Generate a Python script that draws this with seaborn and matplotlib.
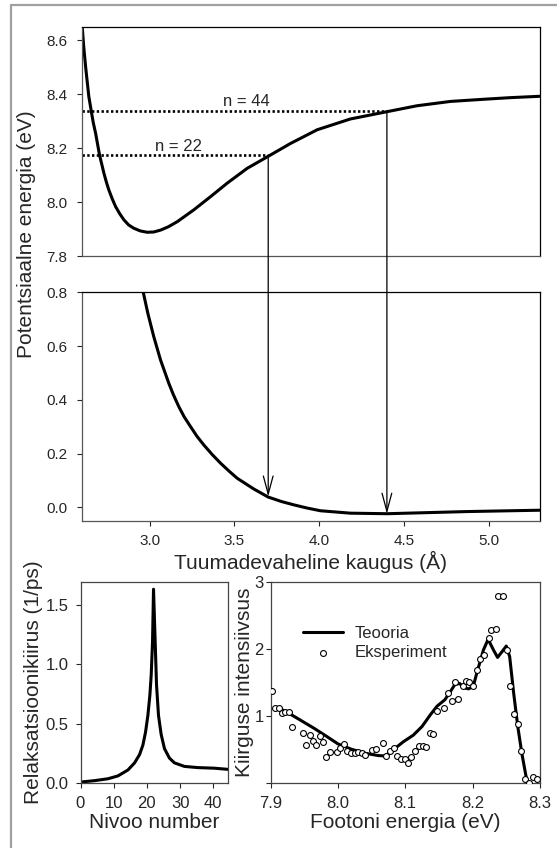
import numpy as np
import pandas as pd
import matplotlib
matplotlib.use("Agg")
import matplotlib.pyplot as plt
import seaborn as sns
from matplotlib.patches import ConnectionPatch
from matplotlib.lines import Line2D

# ---------------- data ----------------
# upper (excited) potential curve
r_upper = [2.603, 2.612, 2.623, 2.642, 2.656, 2.668, 2.682, 2.705, 2.731, 2.745,
           2.760, 2.780, 2.800, 2.825, 2.849, 2.877, 2.907, 2.945, 2.986, 3.025,
           3.065, 3.110, 3.163, 3.210, 3.261, 3.360, 3.458, 3.576, 3.704, 3.831,
           3.989, 4.185, 4.401, 4.578, 4.775, 4.971, 5.128, 5.300]
E_upper = [8.651, 8.575, 8.502, 8.391, 8.339, 8.295, 8.255, 8.175, 8.107, 8.075,
           8.045, 8.012, 7.983, 7.956, 7.934, 7.915, 7.903, 7.893, 7.888, 7.889,
           7.896, 7.908, 7.927, 7.948, 7.971, 8.020, 8.070, 8.125, 8.171, 8.217,
           8.268, 8.308, 8.335, 8.357, 8.373, 8.381, 8.387, 8.392]
# lower (ground) potential curve
r_lower = [2.963, 2.990, 3.025, 3.065, 3.114, 3.140, 3.173, 3.205, 3.242, 3.280,
           3.320, 3.370, 3.419, 3.470, 3.517, 3.615, 3.700, 3.780, 3.851, 3.930,
           4.008, 4.185, 4.401, 4.637, 4.873, 5.128, 5.300]
V_lower = [0.800, 0.722, 0.635, 0.548, 0.461, 0.420, 0.374, 0.336, 0.300, 0.264,
           0.232, 0.196, 0.164, 0.134, 0.108, 0.068, 0.038, 0.021, 0.009, -0.003,
           -0.013, -0.022, -0.024, -0.020, -0.016, -0.013, -0.011]
# vibrational levels
level_labels = ["n = 22", "n = 44"]
level_r = [3.70, 4.40]
level_E = [8.173, 8.337]
level_lower = [0.040, -0.024]
label_r = [3.168, 3.572]

# relaxation rate vs level number
n_level = [0, 4.3, 8.3, 11.3, 14.3, 16.3, 17.8, 18.8, 19.6, 20.3, 20.9, 21.3, 21.7,
           22.0, 22.5, 22.9, 23.5, 24.3, 25.3, 26.8, 28.3, 31.3, 35.3, 40.3, 44.5]
rate = [0.008, 0.02, 0.036, 0.06, 0.11, 0.17, 0.24, 0.32, 0.43, 0.57, 0.74, 0.91, 1.19,
        1.635, 1.19, 0.83, 0.57, 0.41, 0.29, 0.21, 0.17, 0.14, 0.13, 0.125, 0.115]

# emission spectrum: theory
E_theory = [7.915, 7.925, 7.945, 7.965, 7.985, 8.000, 8.020, 8.040, 8.060, 8.070,
            8.082, 8.097, 8.112, 8.125, 8.137, 8.147, 8.159, 8.167, 8.174, 8.181,
            8.186, 8.194, 8.201, 8.206, 8.216, 8.223, 8.231, 8.237, 8.244, 8.250,
            8.255, 8.261, 8.267, 8.273, 8.281]
I_theory = [1.10, 1.05, 0.93, 0.81, 0.68, 0.58, 0.50, 0.44, 0.405, 0.40,
            0.49, 0.61, 0.71, 0.84, 1.01, 1.14, 1.24, 1.36, 1.47, 1.48,
            1.42, 1.40, 1.44, 1.63, 1.98, 2.14, 1.98, 1.87, 1.96, 2.04,
            1.88, 1.33, 0.84, 0.44, 0.0]
# emission spectrum: experiment
E_exp = [7.902, 7.907, 7.913, 7.917, 7.922, 7.927, 7.932, 7.948, 7.953, 7.958,
         7.963, 7.968, 7.973, 7.978, 7.983, 7.988, 7.998, 8.003, 8.009, 8.014,
         8.020, 8.025, 8.030, 8.036, 8.041, 8.051, 8.056, 8.067, 8.072, 8.078,
         8.083, 8.088, 8.093, 8.099, 8.104, 8.109, 8.115, 8.121, 8.126, 8.131,
         8.136, 8.141, 8.147, 8.158, 8.163, 8.169, 8.174, 8.179, 8.185, 8.190,
         8.195, 8.200, 8.206, 8.211, 8.217, 8.224, 8.228, 8.234, 8.238, 8.245,
         8.251, 8.256, 8.261, 8.267, 8.272, 8.278, 8.284, 8.289, 8.295]
I_exp = [1.37, 1.12, 1.12, 1.035, 1.06, 1.05, 0.835, 0.745, 0.57, 0.71,
         0.62, 0.57, 0.695, 0.61, 0.38, 0.46, 0.46, 0.52, 0.575, 0.48,
         0.44, 0.44, 0.46, 0.45, 0.42, 0.49, 0.51, 0.60, 0.40, 0.48,
         0.52, 0.40, 0.36, 0.35, 0.30, 0.38, 0.48, 0.55, 0.55, 0.53,
         0.745, 0.725, 1.07, 1.12, 1.335, 1.22, 1.51, 1.255, 1.45, 1.52,
         1.51, 1.44, 1.68, 1.84, 1.905, 2.165, 2.28, 2.30, 2.78, 2.78,
         1.98, 1.445, 1.02, 0.87, 0.475, 0.05, 0.0, 0.08, 0.055]

# ---------------- style ----------------
sns.set_style("ticks")
plt.rcParams['font.family'] = ['Liberation Sans', 'DejaVu Sans']
plt.rcParams['axes.linewidth'] = 0.9
plt.rcParams['xtick.major.size'] = 3.5
plt.rcParams['ytick.major.size'] = 3.5
plt.rcParams['xtick.major.width'] = 0.8
plt.rcParams['ytick.major.width'] = 0.8

W, H = 557, 848
fig = plt.figure(figsize=(W / 100, H / 100), dpi=100)

def box(l, t, r, b):
    return [l / W, 1 - b / H, (r - l) / W, (b - t) / H]

ax_top = fig.add_axes(box(81.7, 26.7, 539.5, 256.0))
ax_mid = fig.add_axes(box(81.7, 292.3, 539.5, 520.7))
ax_bl = fig.add_axes(box(80.5, 581.5, 228.2, 783.0))
ax_br = fig.add_axes(box(270.5, 581.7, 540.0, 782.7))

LW = 2.2
TICK_FS = 11
LAB_FS = 15

# ---- top panel ----
sns.lineplot(x=r_upper, y=E_upper, ax=ax_top, color='black', lw=LW,
             sort=False, estimator=None)
for lab, r, E, rl in zip(level_labels, level_r, level_E, label_r):
    ax_top.plot([2.6, r], [E, E], color='black', lw=1.9, ls=(0, (0.9, 0.9)),
                solid_capstyle='butt')
    ax_top.text(rl, E + 0.018, lab, ha='center', va='baseline', fontsize=12)
ax_top.set_xlim(2.6, 5.3)
ax_top.set_ylim(7.8, 8.65)
ax_top.set_yticks([7.8, 8.0, 8.2, 8.4, 8.6])
ax_top.set_yticklabels(["7.8", "8.0", "8.2", "8.4", "8.6"])
ax_top.tick_params(axis='x', bottom=False, labelbottom=False)
ax_top.tick_params(axis='y', labelsize=TICK_FS, pad=7)

# ---- middle panel ----
sns.lineplot(x=r_lower, y=V_lower, ax=ax_mid, color='black', lw=LW,
             sort=False, estimator=None)
ax_mid.set_xlim(2.6, 5.3)
ax_mid.set_ylim(-0.05, 0.8)
ax_mid.set_xticks([3.0, 3.5, 4.0, 4.5, 5.0])
ax_mid.set_xticklabels(["3.0", "3.5", "4.0", "4.5", "5.0"])
ax_mid.set_yticks([0.0, 0.2, 0.4, 0.6, 0.8])
ax_mid.set_yticklabels(["0.0", "0.2", "0.4", "0.6", "0.8"])
ax_mid.tick_params(axis='y', labelsize=TICK_FS, pad=7)
ax_mid.tick_params(axis='x', labelsize=TICK_FS, pad=6)
ax_mid.set_xlabel("Tuumadevaheline kaugus (Å)", fontsize=LAB_FS, labelpad=2)

fig.text(26.7 / W, 1 - 234 / H, "Potentsiaalne energia (eV)", rotation=90,
         ha='center', va='center', fontsize=LAB_FS)

for ax in (ax_top, ax_mid):
    for s in ('left', 'bottom'):
        ax.spines[s].set_color('#555555')
    for s in ('top', 'right'):
        ax.spines[s].set_color('black')

# transition arrows
for r, E, v in zip(level_r, level_E, level_lower):
    con = ConnectionPatch(xyA=(r, E), coordsA=ax_top.transData,
                          xyB=(r, v), coordsB=ax_mid.transData,
                          arrowstyle="->,head_length=1.3,head_width=0.35",
                          mutation_scale=10, lw=0.9, color='black',
                          shrinkA=0, shrinkB=0)
    fig.add_artist(con)

# ---- bottom left ----
sns.lineplot(x=n_level, y=rate, ax=ax_bl, color='black', lw=LW,
             sort=False, estimator=None)
ax_bl.set_xlim(0, 44.5)
ax_bl.set_ylim(0, 1.7)
ax_bl.set_xticks([0, 10, 20, 30, 40])
ax_bl.set_yticks([0.0, 0.5, 1.0, 1.5])
ax_bl.set_yticklabels(["0.0", "0.5", "1.0", "1.5"])
ax_bl.tick_params(axis='y', labelsize=12, pad=5)
ax_bl.tick_params(axis='x', labelsize=12, pad=6)
ax_bl.set_xlabel("Nivoo number", fontsize=LAB_FS, labelpad=1.5)
ax_bl.set_ylabel("Relaksatsioonikiirus (1/ps)", fontsize=LAB_FS, labelpad=2)

# ---- bottom right ----
sns.lineplot(x=E_theory, y=I_theory, ax=ax_br, color='black', lw=LW,
             sort=False, estimator=None, label="Teooria")
sns.scatterplot(x=E_exp, y=I_exp, ax=ax_br, marker='o', s=18,
                facecolor='white', edgecolor='black', linewidth=0.8,
                label="Eksperiment", zorder=3)
ax_br.set_xlim(7.9, 8.3)
ax_br.set_ylim(0, 3)
ax_br.set_xticks([7.9, 8.0, 8.1, 8.2, 8.3])
ax_br.set_xticklabels(["7.9", "8.0", "8.1", "8.2", "8.3"])
ax_br.set_yticks([0, 1, 2, 3])
ax_br.set_yticklabels(["", "1", "2", "3"])
ax_br.tick_params(axis='y', labelsize=12, pad=1.5)
ax_br.tick_params(axis='x', labelsize=12, pad=6)
ax_br.set_xlabel("Footoni energia (eV)", fontsize=LAB_FS, labelpad=1.5)
ax_br.set_ylabel("Kiirguse intensiivsus", fontsize=LAB_FS, labelpad=0)
ax_br.legend(loc='upper left', bbox_to_anchor=(0.09, 0.82), frameon=False,
             fontsize=12, handlelength=2.4, handletextpad=0.7,
             labelspacing=0.25, borderpad=0)

for ax in (ax_bl, ax_br):
    for s in ax.spines.values():
        s.set_color('#444444')

# outer gray frame (left and top edges)
fig.add_artist(Line2D([11 / W, 11 / W], [0, 1 - 5 / H], transform=fig.transFigure,
                      color='#a0a0a0', lw=1.6))
fig.add_artist(Line2D([11 / W, 1], [1 - 5 / H, 1 - 5 / H], transform=fig.transFigure,
                      color='#a0a0a0', lw=1.6))

fig.savefig("out.png", dpi=100)
